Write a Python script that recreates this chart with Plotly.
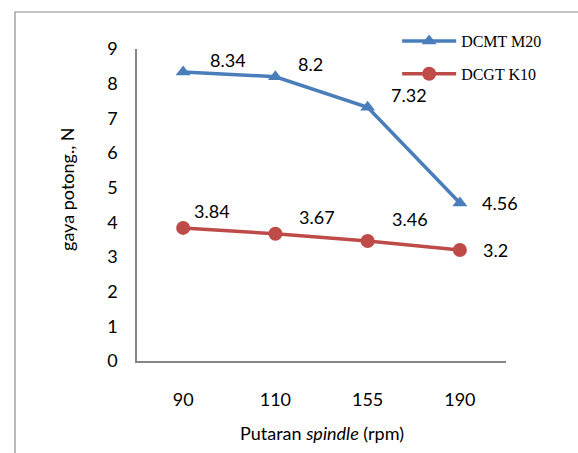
import plotly.graph_objects as go

categories = ["90", "110", "155", "190"]
dcmt_m20 = [8.34, 8.2, 7.32, 4.56]
dcgt_k10 = [3.84, 3.67, 3.46, 3.2]
y_ticks = [0, 1, 2, 3, 4, 5, 6, 7, 8, 9]

# label offsets (pixels) for data labels
blue_dx = [45, 35, 41, 40]
blue_dy = [12, 13, 12, 0]
red_dx = [29, 42, 42, 36]
red_dy = [17, 17, 22, 0]

BLUE = "#4A7EBB"
RED = "#BE4B48"
FONT = "Lato"

fig = go.Figure()
fig.add_trace(go.Scatter(
    x=categories, y=dcmt_m20, name="DCMT M20", mode="lines+markers",
    line=dict(color=BLUE, width=3.5),
    marker=dict(symbol="triangle-up", size=13, color=BLUE),
    legendgroup="a",
))
fig.add_trace(go.Scatter(
    x=categories, y=dcgt_k10, name="DCGT K10", mode="lines+markers",
    line=dict(color=RED, width=3.5),
    marker=dict(symbol="circle", size=14, color=RED),
    legendgroup="b",
))

annotations = []
for vals, dxs, dys in [(dcmt_m20, blue_dx, blue_dy), (dcgt_k10, red_dx, red_dy)]:
    for i, (v, dx, dy) in enumerate(zip(vals, dxs, dys)):
        annotations.append(dict(
            x=i, y=v, xref="x", yref="y", text=f"{v:g}", showarrow=False,
            xshift=dx, yshift=dy, xanchor="center", yanchor="middle",
            font=dict(family=FONT, size=18, color="#000"),
        ))

annotations.append(dict(
    x=-0.19, y=0.551, xref="paper", yref="paper", text="gaya potong., N",
    textangle=-90, showarrow=False, xanchor="center", yanchor="middle",
    font=dict(family=FONT, size=18, color="#000"),
))
annotations.append(dict(
    x=0.5, y=-0.232, xref="paper", yref="paper",
    text="Putaran <i>spindle</i> (rpm)", showarrow=False,
    xanchor="center", yanchor="middle",
    font=dict(family=FONT, size=18, color="#000"),
))

fig.update_layout(
    width=578, height=453,
    margin=dict(l=137, r=72, t=49, b=92, pad=0),
    paper_bgcolor="white", plot_bgcolor="white",
    showlegend=True,
    legend=dict(
        x=0.705, y=1.08, xanchor="left", yanchor="top",
        font=dict(family="Liberation Serif", size=16, color="#000"),
        itemwidth=54, tracegroupgap=9, traceorder="grouped",
        bgcolor="rgba(0,0,0,0)",
    ),
    annotations=annotations,
    shapes=[dict(
        type="path", xref="paper", yref="paper",
        path="M -0.3306,-0.5 L -0.3306,1.1186 L 2,1.1186",
        line=dict(color="#8c8c8c", width=1.2),
    )],
)
fig.update_xaxes(
    type="category", range=[-0.5, 3.5], showgrid=False, zeroline=False,
    showline=True, linecolor="#868686", linewidth=1.5, ticks="",
    tickfont=dict(family=FONT, size=18, color="#000"), ticklabelstandoff=22,
)
fig.update_yaxes(
    range=[0, 9], tickvals=y_ticks, showgrid=False, zeroline=False,
    showline=True, linecolor="#868686", linewidth=1.5, ticks="",
    tickfont=dict(family=FONT, size=18, color="#000"), ticklabelstandoff=14,
)

fig.write_html("out.html")
